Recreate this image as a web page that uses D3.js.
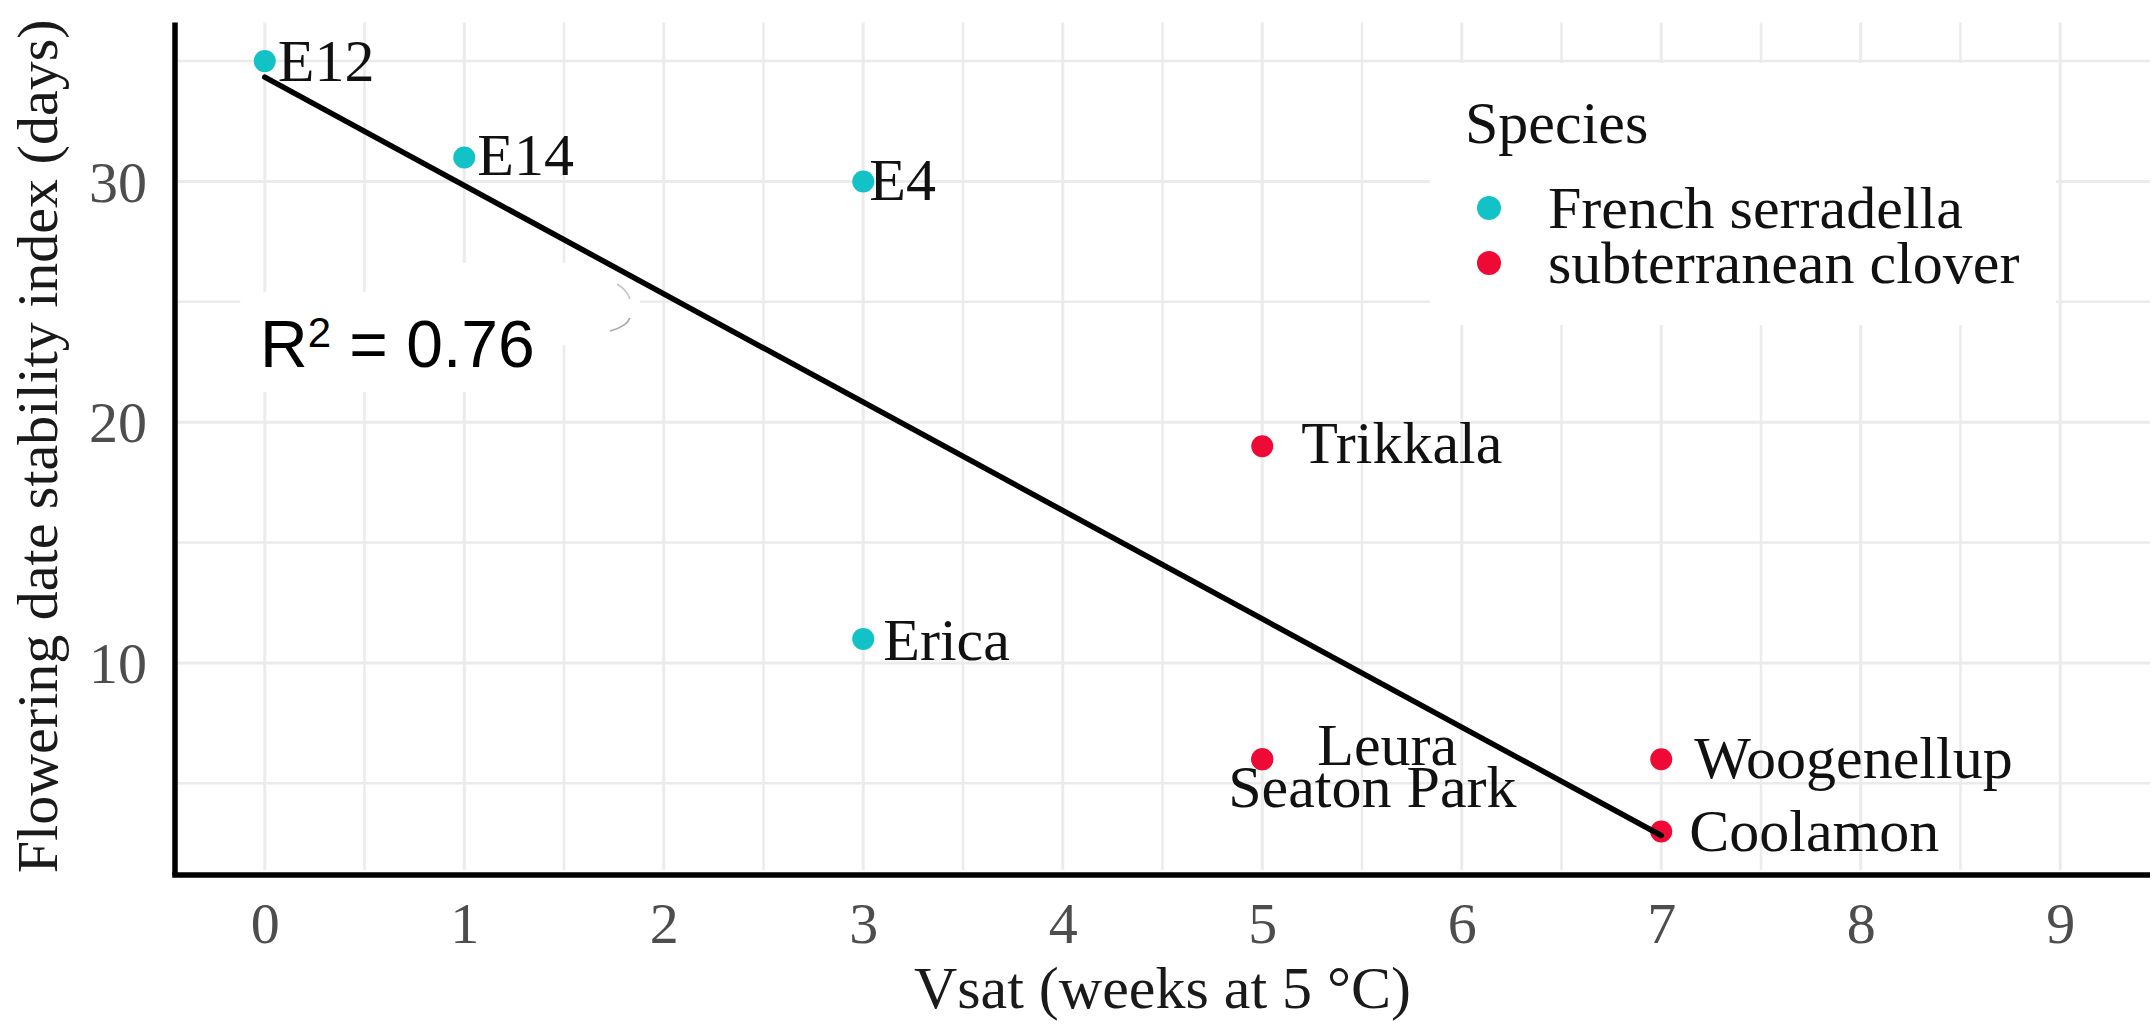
<!DOCTYPE html>
<html>
<head>
<meta charset="utf-8">
<script src="https://cdn.jsdelivr.net/npm/d3@7"></script>
<style>
  html, body { margin: 0; padding: 0; background: #ffffff; }
  svg { display: block; }
</style>
</head>
<body>
<svg id="chart" width="2156" height="1024"></svg>
<script>
// Cultivar-level data: vernalisation saturation vs flowering date stability
const cultivars = ["E12", "E14", "E4", "Erica", "Trikkala", "Leura", "Seaton Park", "Woogenellup", "Coolamon"];
const cultivarSpecies = ["French serradella", "French serradella", "French serradella", "French serradella",
  "subterranean clover", "subterranean clover", "subterranean clover", "subterranean clover", "subterranean clover"];
const vsatWeeks = [0, 1, 3, 3, 5, 5, 5, 7, 7];
const stabilityDays = [35, 31, 30, 11, 19, 6, 6, 6, 3];

const speciesNames = ["French serradella", "subterranean clover"];
const xTickValues = [0, 1, 2, 3, 4, 5, 6, 7, 8, 9];
const yTickValues = [10, 20, 30];

// label placement (pixel nudges from each point: text start, baseline)
const labelNudge = {
  "E12": [13, 20], "E14": [13, 18], "E4": [6, 19], "Erica": [20, 21],
  "Trikkala": [39, 17], "Leura": [55, 6], "Seaton Park": [-34, 48],
  "Woogenellup": [33, 19], "Coolamon": [28, 20]
};

const points = cultivars.map((c, i) => ({
  name: c, species: cultivarSpecies[i], x: vsatWeeks[i], y: stabilityDays[i]
}));

// least-squares fit across all cultivars
const mx = d3.mean(vsatWeeks), my = d3.mean(stabilityDays);
const sxy = d3.sum(points, p => (p.x - mx) * (p.y - my));
const sxx = d3.sum(points, p => (p.x - mx) ** 2);
const syy = d3.sum(points, p => (p.y - my) ** 2);
const slope = sxy / sxx;
const intercept = my - slope * mx;
const r2 = (sxy * sxy) / (sxx * syy);

const svg = d3.select("#chart");
const serif = "'Liberation Serif', 'Times New Roman', serif";

const panel = { left: 175, right: 2150, top: 22.6, bottom: 870 };

// ggplot-style 5% expansion on both axes
const xExt = [0, 9], yExt = d3.extent(stabilityDays);
const xPad = (xExt[1] - xExt[0]) * 0.05, yPad = (yExt[1] - yExt[0]) * 0.05;
const x = d3.scaleLinear().domain([xExt[0] - xPad, xExt[1] + xPad]).range([panel.left, panel.right]);
const y = d3.scaleLinear().domain([yExt[0] - yPad, yExt[1] + yPad]).range([panel.bottom, panel.top]);

const color = d3.scaleOrdinal().domain(speciesNames).range(["#12C2C6", "#EE0A35"]);

// grid: major + minor
const gridColor = "#EBEBEB";
const grid = svg.append("g");
const xMinor = d3.range(-0.5, 9.51, 0.5).filter(v => v >= x.domain()[0] && v <= x.domain()[1]);
const yMinor = d3.range(5, 36, 5);
grid.selectAll("line.vx").data(xMinor).join("line")
  .attr("x1", d => x(d)).attr("x2", d => x(d))
  .attr("y1", panel.top).attr("y2", panel.bottom)
  .attr("stroke", gridColor).attr("stroke-width", d => Number.isInteger(d) ? 3 : 2.5);
grid.selectAll("line.hy").data(yMinor).join("line")
  .attr("x1", panel.left).attr("x2", panel.right)
  .attr("y1", d => y(d)).attr("y2", d => y(d))
  .attr("stroke", gridColor).attr("stroke-width", d => d % 10 === 0 ? 3 : 2.5);

// white patch behind the R² annotation
const patch = svg.append("g");
patch.append("rect").attr("x", 240).attr("y", 292).attr("width", 270).attr("height", 100)
  .attr("rx", 12).attr("fill", "#ffffff");
patch.append("rect").attr("x", 448).attr("y", 263).attr("width", 192).attr("height", 82)
  .attr("rx", 16).attr("fill", "#ffffff");
patch.append("path").attr("d", "M617,284 Q627,290 630,299").attr("fill", "none")
  .attr("stroke", "#c4c4c4").attr("stroke-width", 1.5);
patch.append("path").attr("d", "M630,318 Q626,327 610,331").attr("fill", "none")
  .attr("stroke", "#a8a8a8").attr("stroke-width", 1.8);

// axes
const xAxis = d3.axisBottom(x).tickValues(xTickValues).tickSize(0).tickPadding(0);
const gx = svg.append("g").attr("transform", `translate(0,${panel.bottom})`).call(xAxis);
gx.select(".domain").remove();
gx.selectAll("text").attr("y", 73).attr("dy", null)
  .attr("font-family", serif).attr("font-size", 58).attr("fill", "#4D4D4D");

const yAxis = d3.axisLeft(y).tickValues(yTickValues).tickSize(0).tickPadding(0);
const gy = svg.append("g").attr("transform", `translate(${panel.left},0)`).call(yAxis);
gy.select(".domain").remove();
gy.selectAll("text").attr("x", -28).attr("dy", "0.34em")
  .attr("font-family", serif).attr("font-size", 58).attr("fill", "#4D4D4D");

svg.append("line").attr("x1", panel.left).attr("x2", panel.left)
  .attr("y1", panel.top).attr("y2", panel.bottom + 5)
  .attr("stroke", "#000").attr("stroke-width", 5.5);
svg.append("line").attr("x1", panel.left - 2.75).attr("x2", panel.right)
  .attr("y1", panel.bottom + 5).attr("y2", panel.bottom + 5)
  .attr("stroke", "#000").attr("stroke-width", 5.5);

// axis titles
svg.append("text").attr("x", (panel.left + panel.right) / 2).attr("y", 1008)
  .attr("text-anchor", "middle").attr("font-family", serif).attr("font-size", 60)
  .attr("fill", "#1a1a1a").text("Vsat (weeks at 5 °C)");
svg.append("text").attr("transform", `translate(57,${(panel.top + panel.bottom) / 2}) rotate(-90)`)
  .attr("text-anchor", "middle").attr("font-family", serif).attr("font-size", 58)
  .attr("fill", "#1a1a1a").text("Flowering date stability index (days)");

// points
svg.append("g").selectAll("circle").data(points).join("circle")
  .attr("cx", d => x(d.x)).attr("cy", d => y(d.y)).attr("r", 11)
  .attr("fill", d => color(d.species));

// cultivar labels
svg.append("g").selectAll("text").data(points).join("text")
  .attr("x", d => x(d.x) + labelNudge[d.name][0])
  .attr("y", d => y(d.y) + labelNudge[d.name][1])
  .attr("font-family", serif).attr("font-size", 60).attr("fill", "#111")
  .text(d => d.name);

// fitted line over the observed Vsat range
const fitX = d3.extent(vsatWeeks);
svg.append("line")
  .attr("x1", x(fitX[0])).attr("y1", y(intercept + slope * fitX[0]))
  .attr("x2", x(fitX[1])).attr("y2", y(intercept + slope * fitX[1]))
  .attr("stroke", "#000").attr("stroke-width", 5.5).attr("stroke-linecap", "round");

// R² annotation
const r2Text = svg.append("text").attr("x", 260).attr("y", 367)
  .attr("font-family", "'Liberation Sans', Arial, sans-serif").attr("font-size", 66).attr("fill", "#000");
r2Text.append("tspan").text("R");
r2Text.append("tspan").attr("font-size", 42).attr("dy", -20).text("2");
r2Text.append("tspan").attr("dy", 20).text(" = " + d3.format(".2f")(r2));

// legend
const legend = svg.append("g");
legend.append("rect").attr("x", 1430).attr("y", 63).attr("width", 626).attr("height", 262)
  .attr("fill", "#ffffff");
legend.append("text").attr("x", 1465).attr("y", 143)
  .attr("font-family", serif).attr("font-size", 60).attr("fill", "#111").text("Species");
const items = legend.selectAll("g.item").data(speciesNames).join("g")
  .attr("transform", (d, i) => `translate(0,${i * 55})`);
items.append("circle").attr("cx", 1489).attr("cy", 208).attr("r", 12).attr("fill", d => color(d));
items.append("text").attr("x", 1548).attr("y", 228)
  .attr("font-family", serif).attr("font-size", 60).attr("fill", "#111").text(d => d);
</script>
</body>
</html>
